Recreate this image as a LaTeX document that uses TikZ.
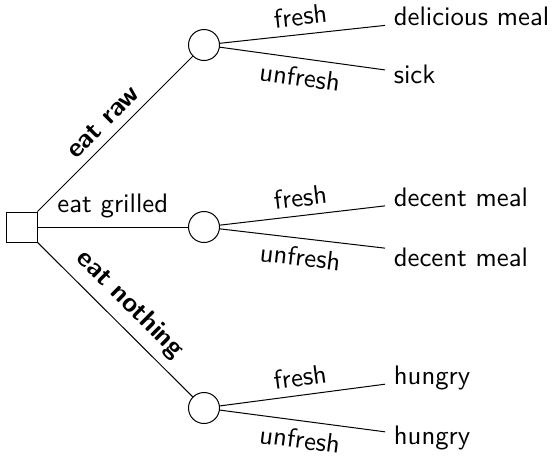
\documentclass[tikz,border=0pt]{standalone}
\renewcommand\familydefault{\sfdefault}
\begin{document}
\begin{tikzpicture}[x=0.4pt,y=-0.4pt,font=\sffamily\fontsize{10.7}{13}\selectfont,
  decision/.style={draw,rectangle,minimum size=12pt,inner sep=0pt},
  chance/.style={draw,circle,minimum size=12.4pt,inner sep=0pt},
  leaf/.style={anchor=west},
  strong/.style={font=\sffamily\fontsize{10.7}{13}\selectfont\bfseries}]
\useasboundingbox (0,0) rectangle (552,455);
\node[decision] (d) at (22,227) {};
\node[chance] (c1) at (204,45) {};
\node[chance] (c2) at (204,227) {};
\node[chance] (c3) at (204,408) {};
\node[leaf] (l1) at (385,16) {delicious meal};
\node[leaf] (l2) at (385,74) {sick};
\node[leaf] (l3) at (385,197) {decent meal};
\node[leaf] (l4) at (385,257) {decent meal};
\node[leaf] (l5) at (385,378) {hungry};
\node[leaf] (l6) at (385,438) {hungry};
\draw (d) -- node[sloped,above,strong] {eat raw} (c1);
\draw (d) -- node[above] {eat grilled} (c2);
\draw (d) -- node[sloped,above,strong] {eat nothing} (c3);
\draw (c1) -- node[sloped,above] {fresh} (l1);
\draw (c1) -- node[sloped,below] {unfresh} (l2);
\draw (c2) -- node[sloped,above] {fresh} (l3);
\draw (c2) -- node[sloped,below] {unfresh} (l4);
\draw (c3) -- node[sloped,above] {fresh} (l5);
\draw (c3) -- node[sloped,below] {unfresh} (l6);
\end{tikzpicture}
\end{document}
